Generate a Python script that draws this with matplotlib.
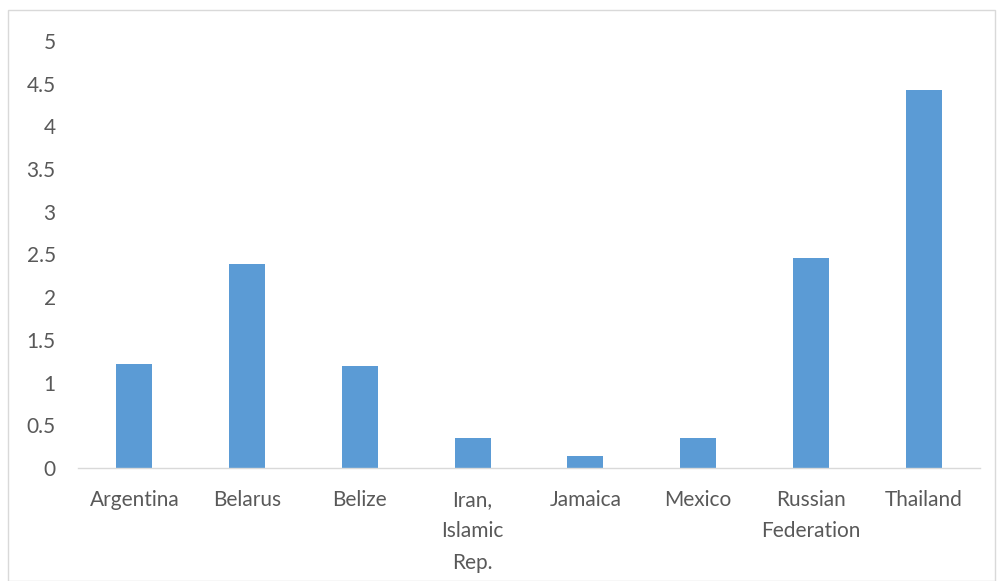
import matplotlib
matplotlib.use("Agg")
import matplotlib.pyplot as plt
from matplotlib.patches import Rectangle

categories = ["Argentina", "Belarus", "Belize", "Iran,\nIslamic\nRep.", "Jamaica",
              "Mexico", "Russian\nFederation", "Thailand"]
values = [1.22, 2.39, 1.19, 0.355, 0.145, 0.355, 2.46, 4.43]
yticks = [0, 0.5, 1, 1.5, 2, 2.5, 3, 3.5, 4, 4.5, 5]
ytick_labels = ["0", "0.5", "1", "1.5", "2", "2.5", "3", "3.5", "4", "4.5", "5"]

plt.rcParams['font.family'] = ['Lato', 'DejaVu Sans']

fig = plt.figure(figsize=(9.98, 5.81), dpi=100)
ax = fig.add_axes([78/998, 1 - 468/581, (980-78)/998, (468-41)/581])

x = list(range(len(categories)))
ax.bar(x, values, width=0.32, color="#5B9BD5", zorder=2)
ax.set_xlim(-0.5, len(categories) - 0.5)
ax.set_ylim(0, 5)
ax.set_yticks(yticks)
ax.set_yticklabels(ytick_labels)
ax.set_xticks(x)
ax.set_xticklabels(categories, linespacing=1.7, va="top")
ax.tick_params(axis="both", length=0, labelsize=15, labelcolor="#595959")
ax.tick_params(axis="y", pad=16)
ax.tick_params(axis="x", pad=16)
for s in ["top", "right", "left"]:
    ax.spines[s].set_visible(False)
ax.spines["bottom"].set_color("#D9D9D9")
ax.spines["bottom"].set_linewidth(1.0)

fig.patches.append(Rectangle((8/998, 0.5/581), (995-8)/998, (581-10.5)/581,
                             transform=fig.transFigure, fill=False,
                             edgecolor="#D9D9D9", linewidth=1.0))

fig.savefig("out.png", dpi=100)
